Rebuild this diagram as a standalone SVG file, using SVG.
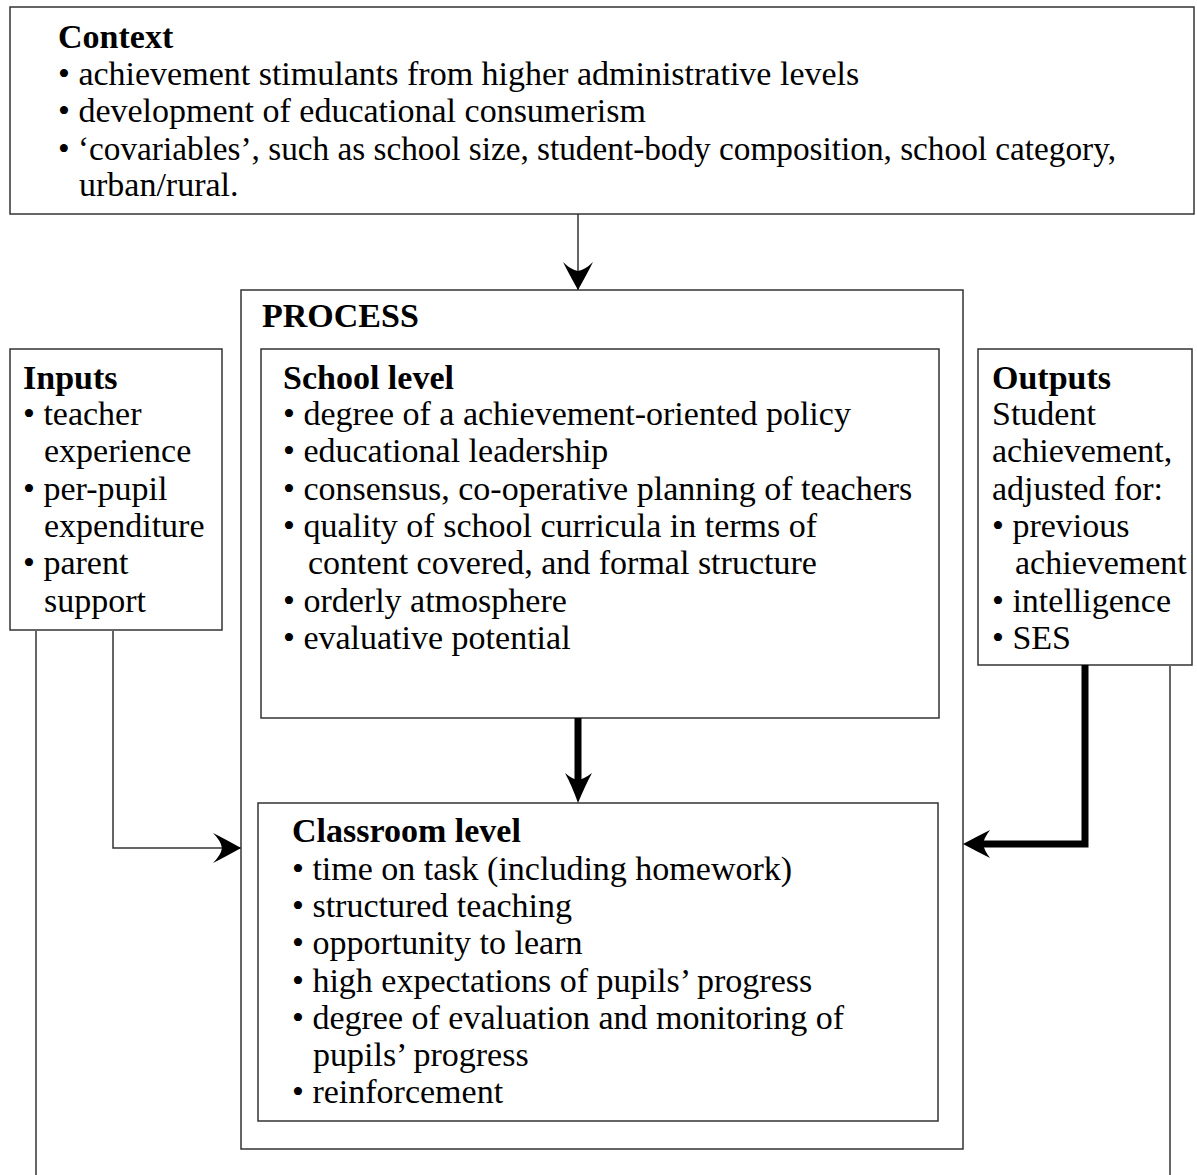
<svg xmlns="http://www.w3.org/2000/svg" width="1197" height="1175" viewBox="0 0 1197 1175">
<style>
text{font-family:"Liberation Serif","Times New Roman",serif;font-size:34px;fill:#000}
.b{font-weight:bold}
.box{fill:#fff;stroke:#333;stroke-width:1.5}
.ln{fill:none;stroke:#333;stroke-width:1.5}
.thk{fill:none;stroke:#000;stroke-width:7}
</style>
<defs>
<marker id="ah" markerWidth="28" markerHeight="30" refX="28" refY="15" orient="auto" markerUnits="userSpaceOnUse" viewBox="0 0 28 30">
<path d="M28,15 Q12,6 0,0 Q8,8 9,15 Q8,22 0,30 Q12,24 28,15 Z" fill="#000"/>
</marker>
</defs>
<rect width="1197" height="1175" fill="#fff"/>
<g id="connectors">
<line class="ln" x1="578" y1="214" x2="578" y2="290" marker-end="url(#ah)"/>
<line class="ln" x1="36" y1="631" x2="36" y2="1175"/>
<line class="ln" x1="1170" y1="666" x2="1170" y2="1175"/>
<polyline class="ln" points="113,631 113,848 241,848" marker-end="url(#ah)"/>
</g>
<g id="context">
<rect class="box" x="10" y="7" width="1184" height="207"/>
<text class="b" x="58" y="48">Context</text>
<text x="58" y="85">• achievement stimulants from higher administrative levels</text>
<text x="58" y="122">• development of educational consumerism</text>
<text x="58" y="160" textLength="1058" lengthAdjust="spacingAndGlyphs">• ‘covariables’, such as school size, student-body composition, school category,</text>
<text x="79" y="196">urban/rural.</text>
</g>
<g id="process">
<rect class="box" x="241" y="290" width="722" height="859"/>
<text class="b" x="262" y="327">PROCESS</text>
</g>
<g id="school-level">
<rect class="box" x="261" y="349" width="678" height="369"/>
<text class="b" x="283" y="389">School level</text>
<text x="283" y="425">• degree of a achievement-oriented policy</text>
<text x="283" y="462">• educational leadership</text>
<text x="283" y="500">• consensus, co-operative planning of teachers</text>
<text x="283" y="537">• quality of school curricula in terms of</text>
<text x="308" y="574">content covered, and formal structure</text>
<text x="283" y="612">• orderly atmosphere</text>
<text x="283" y="649">• evaluative potential</text>
</g>
<g id="classroom-level">
<rect class="box" x="258" y="803" width="680" height="318"/>
<text class="b" x="292" y="842">Classroom level</text>
<text x="292" y="880">• time on task (including homework)</text>
<text x="292" y="917">• structured teaching</text>
<text x="292" y="954">• opportunity to learn</text>
<text x="292" y="992">• high expectations of pupils’ progress</text>
<text x="292" y="1029">• degree of evaluation and monitoring of</text>
<text x="313" y="1066">pupils’ progress</text>
<text x="292" y="1103">• reinforcement</text>
</g>
<g id="inputs">
<rect class="box" x="10" y="349" width="212" height="281"/>
<text class="b" x="23" y="389">Inputs</text>
<text x="23" y="425">• teacher</text>
<text x="44" y="462">experience</text>
<text x="23" y="500">• per-pupil</text>
<text x="44" y="537">expenditure</text>
<text x="23" y="574">• parent</text>
<text x="44" y="612">support</text>
</g>
<g id="outputs">
<rect class="box" x="978" y="349" width="214" height="316"/>
<text class="b" x="992" y="389">Outputs</text>
<text x="992" y="425">Student</text>
<text x="992" y="462">achievement,</text>
<text x="992" y="500">adjusted for:</text>
<text x="992" y="537">• previous</text>
<text x="1015" y="574">achievement</text>
<text x="992" y="612">• intelligence</text>
<text x="992" y="649">• SES</text>
</g>
<g id="connectors-thick">
<line class="thk" x1="578" y1="718" x2="578" y2="784" stroke-width="10"/>
<path d="M578,803 Q572,786 565,773 Q572,779 578,780 Q584,779 592,773 Q585,786 578,803 Z" fill="#000"/>
<polyline class="thk" points="1085,665 1085,844 980,844"/>
<path d="M963,844 Q976,837 990,830 Q984,838 983,844 Q984,850 990,858 Q976,851 963,844 Z" fill="#000"/>
</g>
</svg>
